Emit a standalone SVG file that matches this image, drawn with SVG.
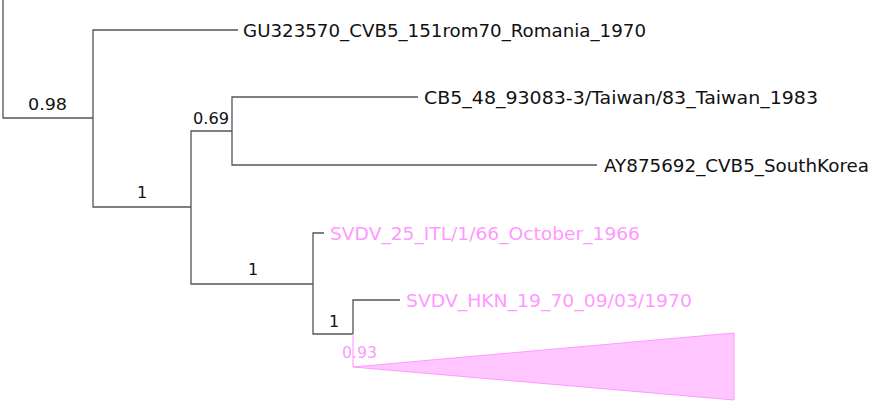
<svg xmlns="http://www.w3.org/2000/svg" width="873" height="405" viewBox="0 0 873 405">
<style>
.br{fill:none;stroke:#555;stroke-width:1.3}
.pk{fill:none;stroke:#ffaaff;stroke-width:1.3}
.t{font-family:"DejaVu Sans",sans-serif;font-size:18px;fill:#111}
.tp{font-family:"DejaVu Sans",sans-serif;font-size:18px;fill:#ff99ff}
.s{font-family:"DejaVu Sans",sans-serif;font-size:16px;fill:#111}
.sp{font-family:"DejaVu Sans",sans-serif;font-size:16px;fill:#ff99ff}
</style>
<rect width="873" height="405" fill="#fff"/>
<g id="connectors">
<path class="br" d="M3,0V118H93"/>
<path class="br" d="M238,30H93V207H191"/>
<path class="br" d="M232,131H191V284H313"/>
<path class="br" d="M418,97H232V165H597"/>
<path class="br" d="M324,233H313V334H353"/>
<path class="br" d="M400,300H353V334"/>
<path class="pk" d="M353,334V367"/>
</g>
<g id="n-gu"><text class="t" x="243" y="37" textLength="403" lengthAdjust="spacingAndGlyphs">GU323570_CVB5_151rom70_Romania_1970</text></g>
<g id="n-cb5"><text class="t" x="424" y="104" textLength="394" lengthAdjust="spacingAndGlyphs">CB5_48_93083-3/Taiwan/83_Taiwan_1983</text></g>
<g id="n-ay"><text class="t" x="604" y="172" textLength="265" lengthAdjust="spacingAndGlyphs">AY875692_CVB5_SouthKorea</text></g>
<g id="n-svdv25"><text class="tp" x="330" y="240" textLength="310" lengthAdjust="spacingAndGlyphs">SVDV_25_ITL/1/66_October_1966</text></g>
<g id="n-hkn"><text class="tp" x="406" y="307" textLength="286" lengthAdjust="spacingAndGlyphs">SVDV_HKN_19_70_09/03/1970</text></g>
<g id="n-clade"><path d="M353,367L734,333V400Z" fill="#ffc6ff" stroke="#ff99ff" stroke-width="1"/></g>
<g id="labels">
<text class="s" x="28" y="110" textLength="39" lengthAdjust="spacingAndGlyphs">0.98</text>
<text class="s" x="137" y="198">1</text>
<text class="s" x="193" y="124" textLength="36" lengthAdjust="spacingAndGlyphs">0.69</text>
<text class="s" x="248" y="275">1</text>
<text class="s" x="329" y="327">1</text>
<text class="sp" x="342" y="358" textLength="35" lengthAdjust="spacingAndGlyphs">0.93</text>
</g>
</svg>
